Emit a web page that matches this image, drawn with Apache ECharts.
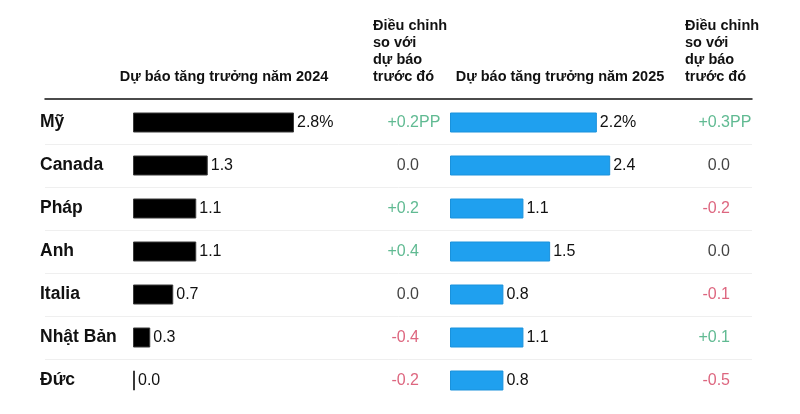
<!DOCTYPE html>
<html lang="vi">
<head>
	<meta charset="UTF-8">
	<title></title>
	<script src="https://cdn.jsdelivr.net/npm/echarts@6/dist/echarts.min.js"></script>
	<style>
		html, body{
			margin: 0;
			padding: 0;
			background: #fff;
		}
		#main{
			width: 800px;
			height: 414px;
		}
	</style>
</head>
<body>
	<div id="main"></div>
</body>
<script>
	// dữ liệu
	let countries = ['Mỹ', 'Canada', 'Pháp', 'Anh', 'Italia', 'Nhật Bản', 'Đức'];
	let growth2024 = [2.8, 1.3, 1.1, 1.1, 0.7, 0.3, 0.0];
	let change2024 = [0.2, 0.0, 0.2, 0.4, 0.0, -0.4, -0.2];
	let growth2025 = [2.2, 2.4, 1.1, 1.5, 0.8, 1.1, 0.8];
	let change2025 = [0.3, 0.0, -0.2, 0.0, -0.1, 0.1, -0.5];
	let headerGrowth = ['Dự báo tăng trưởng năm 2024', 'Dự báo tăng trưởng năm 2025'];
	let headerChange = 'Điều chỉnh\nso với\ndự báo\ntrước đó';

	let font = "'Liberation Sans', Arial, sans-serif";
	let green = '#38a977';
	let red = '#d4405f';
	let gridTop = 101, gridHeight = 301;

	let myChart = echarts.init(document.getElementById('main'));

	function catAxis(grid, extra){
		return Object.assign({
			type: 'category',
			gridIndex: grid,
			data: countries,
			inverse: true,
			axisLine: {show: false},
			axisTick: {show: false},
			axisLabel: {show: false},
			splitLine: {show: false}
		}, extra || {});
	}
	function valAxis(grid, max, extra){
		return Object.assign({
			type: 'value',
			gridIndex: grid,
			min: 0,
			max: max,
			axisLine: {show: false},
			axisTick: {show: false},
			axisLabel: {show: false},
			splitLine: {show: false}
		}, extra || {});
	}
	function fmtChange(v){
		if(v > 0) return '+' + v.toFixed(1);
		return v.toFixed(1);
	}
	function changeColor(v){
		return v > 0 ? green : (v < 0 ? red : '#111');
	}
	// cột điều chỉnh
	function changeSeries(axis, arr){
		return {
			type: 'scatter',
			xAxisIndex: axis,
			yAxisIndex: axis,
			symbolSize: 0,
			silent: true,
			data: arr.map((v, i) => ({
				value: [1, i],
				label: {color: changeColor(v)}
			})),
			label: {
				show: true,
				position: 'left',
				distance: 0,
				fontFamily: font,
				fontSize: 16,
				formatter: p => fmtChange(arr[p.dataIndex])
			}
		};
	}
	// đơn vị PP ở dòng đầu
	function unitSeries(axis, arr){
		return {
			type: 'scatter',
			xAxisIndex: axis,
			yAxisIndex: axis,
			symbolSize: 0,
			silent: true,
			data: [[1, 0]],
			label: {
				show: true,
				position: 'right',
				distance: 0,
				fontFamily: font,
				fontSize: 16,
				color: changeColor(arr[0]),
				formatter: 'PP'
			}
		};
	}
	function barSeries(axis, arr, color, border){
		return {
			type: 'bar',
			xAxisIndex: axis,
			yAxisIndex: axis,
			data: arr,
			barWidth: 20,
			barMinHeight: 2,
			silent: true,
			itemStyle: {color: color, borderColor: border, borderWidth: 1},
			label: {
				show: true,
				position: 'right',
				distance: 3,
				fontFamily: font,
				fontSize: 16,
				color: '#111',
				formatter: p => p.dataIndex == 0 ? p.value.toFixed(1) + '%' : p.value.toFixed(1)
			}
		};
	}

	myChart.setOption({
		animation: false,
		grid: [
			{left: 45, width: 707, top: gridTop, height: gridHeight},
			{left: 133, width: 230, top: gridTop, height: gridHeight},
			{left: 379, width: 40, top: gridTop, height: gridHeight},
			{left: 450, width: 267, top: gridTop, height: gridHeight},
			{left: 690, width: 40, top: gridTop, height: gridHeight}
		],
		xAxis: [
			valAxis(0, 1, {position: 'top', offset: 2, axisLine: {show: true, lineStyle: {color: '#111', width: 1.5}}}),
			valAxis(1, 4),
			valAxis(2, 1),
			valAxis(3, 4),
			valAxis(4, 1)
		],
		yAxis: [
			catAxis(0, {splitLine: {show: true, showMinLine: false, showMaxLine: false, interval: 0, lineStyle: {color: '#efefef', width: 1}}}),
			catAxis(1, {axisLabel: {show: true, align: 'left', margin: 93, interval: 0, fontFamily: font, fontSize: 17.5, fontWeight: 'bold', color: '#111'}}),
			catAxis(2),
			catAxis(3),
			catAxis(4)
		],
		graphic: [
			{type: 'text', x: 224, y: 77, style: {text: headerGrowth[0], font: 'bold 14.5px ' + font, fill: '#111', textAlign: 'center', textVerticalAlign: 'middle'}},
			{type: 'text', x: 373, y: 17, style: {text: headerChange, font: 'bold 14.5px ' + font, fill: '#111', lineHeight: 17, textAlign: 'left', textVerticalAlign: 'top'}},
			{type: 'text', x: 560, y: 77, style: {text: headerGrowth[1], font: 'bold 14.5px ' + font, fill: '#111', textAlign: 'center', textVerticalAlign: 'middle'}},
			{type: 'text', x: 685, y: 17, style: {text: headerChange, font: 'bold 14.5px ' + font, fill: '#111', lineHeight: 17, textAlign: 'left', textVerticalAlign: 'top'}}
		],
		series: [
			barSeries(1, growth2024, '#000', '#3a3a3a'),
			changeSeries(2, change2024),
			unitSeries(2, change2024),
			barSeries(3, growth2025, '#1fa0ef', '#1a92dc'),
			changeSeries(4, change2025),
			unitSeries(4, change2025)
		]
	});
</script>
</html>
